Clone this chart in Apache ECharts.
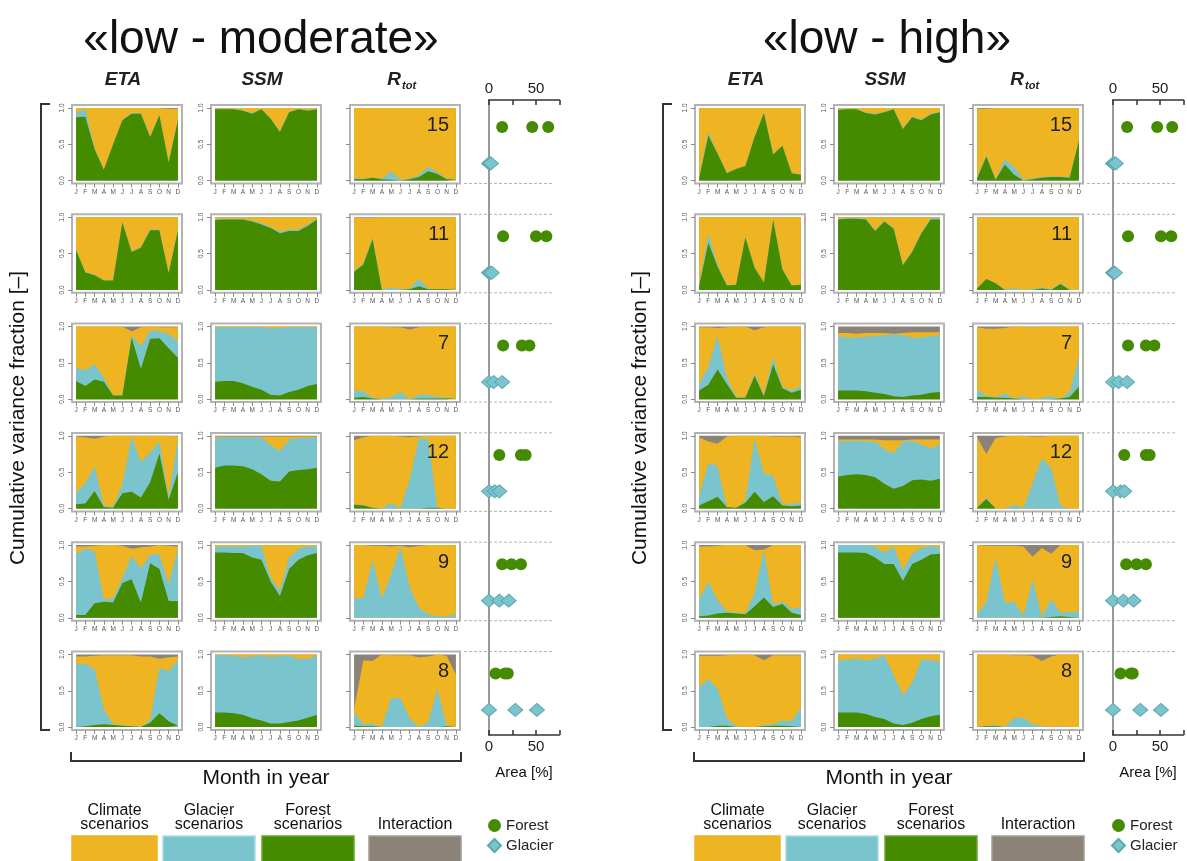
<!DOCTYPE html>
<html>
<head>
<meta charset="utf-8">
<title>Cumulative variance fraction</title>
<script src="https://cdn.jsdelivr.net/npm/echarts@6/dist/echarts.min.js"></script>
<style>
  html, body { margin: 0; padding: 0; background: #fff; }
  #chart { width: 1187px; height: 861px; }
</style>
</head>
<body>
<div id="chart"></div>
<script>
// categories
const months = ['J', 'F', 'M', 'A', 'M', 'J', 'J', 'A', 'S', 'O', 'N', 'D'];
const rtotNumbers = ['15', '11', '7', '12', '9', '8'];
const yTicks = [0, 0.5, 1];

// cumulative tops (forest, forest+glacier, forest+glacier+climate); interaction fills up to 1.0
// «low - moderate»
const lmEtaForest = [
  [0.87, 0.88, 0.43, 0.15, 0.50, 0.83, 0.92, 0.92, 0.60, 0.90, 0.25, 0.83],
  [0.55, 0.24, 0.20, 0.13, 0.13, 0.93, 0.52, 0.58, 0.82, 0.82, 0.23, 0.82],
  [0.25, 0.18, 0.27, 0.24, 0.05, 0.05, 0.85, 0.42, 0.83, 0.84, 0.70, 0.57],
  [0.06, 0.07, 0.24, 0.02, 0.01, 0.21, 0.23, 0.15, 0.36, 0.76, 0.12, 0.50],
  [0.04, 0.04, 0.20, 0.22, 0.21, 0.48, 0.53, 0.21, 0.75, 0.67, 0.23, 0.23],
  [0.00, 0.01, 0.03, 0.04, 0.03, 0.02, 0.01, 0.00, 0.06, 0.19, 0.08, 0.02]
];
const lmEtaGlacier = [
  [0.93, 0.99, 0.45, 0.15, 0.50, 0.84, 0.93, 0.93, 0.61, 0.90, 0.26, 0.84],
  [0.56, 0.25, 0.21, 0.13, 0.14, 0.94, 0.53, 0.59, 0.83, 0.83, 0.24, 0.83],
  [0.43, 0.40, 0.48, 0.30, 0.05, 0.05, 0.88, 0.73, 0.95, 0.93, 0.90, 0.80],
  [0.22, 0.35, 0.58, 0.04, 0.02, 0.33, 0.99, 0.64, 0.77, 0.92, 0.16, 0.95],
  [0.88, 0.95, 0.92, 0.25, 0.27, 0.55, 0.85, 0.68, 0.87, 0.87, 0.47, 0.95],
  [0.87, 0.87, 0.80, 0.25, 0.04, 0.03, 0.01, 0.00, 0.10, 0.82, 0.77, 0.92]
];
const lmEtaClimate = [
  [1.00, 1.00, 1.00, 1.00, 1.00, 1.00, 1.00, 1.00, 1.00, 1.00, 0.99, 0.99],
  [1.00, 1.00, 1.00, 1.00, 1.00, 1.00, 1.00, 1.00, 1.00, 1.00, 1.00, 1.00],
  [1.00, 1.00, 1.00, 1.00, 1.00, 1.00, 0.93, 0.99, 1.00, 0.99, 0.99, 0.99],
  [0.99, 0.98, 0.96, 0.99, 1.00, 1.00, 1.00, 1.00, 1.00, 1.00, 1.00, 0.99],
  [0.98, 0.98, 0.99, 1.00, 1.00, 0.99, 0.95, 0.97, 0.98, 1.00, 0.99, 0.98],
  [0.97, 0.97, 0.98, 0.99, 0.99, 0.99, 0.99, 0.97, 0.97, 0.94, 0.96, 0.97]
];
const lmSsmForest = [
  [0.98, 0.98, 0.98, 0.96, 0.92, 0.98, 0.85, 0.67, 0.94, 0.98, 0.96, 0.98],
  [0.96, 0.97, 0.97, 0.97, 0.94, 0.90, 0.85, 0.78, 0.81, 0.81, 0.88, 0.97],
  [0.24, 0.25, 0.25, 0.22, 0.17, 0.13, 0.06, 0.05, 0.10, 0.13, 0.18, 0.21],
  [0.56, 0.59, 0.59, 0.58, 0.54, 0.47, 0.38, 0.37, 0.51, 0.53, 0.54, 0.56],
  [0.90, 0.90, 0.89, 0.89, 0.83, 0.80, 0.50, 0.30, 0.67, 0.80, 0.86, 0.89],
  [0.20, 0.20, 0.19, 0.17, 0.12, 0.09, 0.05, 0.05, 0.07, 0.09, 0.13, 0.17]
];
const lmSsmGlacier = [
  [0.99, 0.99, 0.99, 0.97, 0.93, 0.99, 0.86, 0.68, 0.95, 0.99, 0.97, 0.99],
  [0.98, 0.98, 0.98, 0.98, 0.95, 0.92, 0.87, 0.80, 0.83, 0.83, 0.90, 0.98],
  [0.99, 0.99, 0.99, 0.99, 0.99, 0.99, 0.98, 0.98, 0.99, 0.99, 0.99, 0.99],
  [0.97, 0.98, 0.98, 0.98, 0.98, 0.98, 0.87, 0.79, 0.95, 0.97, 0.97, 0.98],
  [0.98, 0.98, 0.98, 0.98, 0.99, 0.99, 0.55, 0.38, 0.83, 0.95, 0.98, 0.99],
  [0.99, 0.99, 0.98, 0.96, 0.97, 0.99, 0.96, 0.98, 0.98, 0.94, 0.94, 0.98]
];
const lmSsmClimate = [
  [1.00, 1.00, 1.00, 1.00, 1.00, 1.00, 1.00, 1.00, 1.00, 1.00, 1.00, 1.00],
  [1.00, 1.00, 1.00, 1.00, 1.00, 1.00, 1.00, 1.00, 1.00, 1.00, 1.00, 1.00],
  [1.00, 1.00, 1.00, 1.00, 1.00, 1.00, 1.00, 1.00, 1.00, 1.00, 1.00, 1.00],
  [0.99, 0.99, 0.99, 0.99, 0.99, 0.99, 0.99, 0.99, 0.99, 0.99, 0.99, 0.99],
  [1.00, 1.00, 1.00, 1.00, 1.00, 1.00, 1.00, 1.00, 1.00, 1.00, 1.00, 1.00],
  [1.00, 1.00, 1.00, 1.00, 1.00, 1.00, 1.00, 1.00, 1.00, 1.00, 1.00, 1.00]
];
const lmRtotForest = [
  [0.02, 0.02, 0.04, 0.02, 0.01, 0.00, 0.02, 0.05, 0.13, 0.09, 0.02, 0.02],
  [0.25, 0.35, 0.70, 0.00, 0.00, 0.00, 0.01, 0.05, 0.01, 0.01, 0.01, 0.02],
  [0.02, 0.03, 0.01, 0.00, 0.00, 0.00, 0.00, 0.01, 0.01, 0.01, 0.01, 0.01],
  [0.05, 0.04, 0.01, 0.00, 0.00, 0.00, 0.00, 0.00, 0.01, 0.01, 0.00, 0.00],
  [0.00, 0.00, 0.00, 0.00, 0.00, 0.00, 0.00, 0.00, 0.00, 0.00, 0.00, 0.00],
  [0.02, 0.01, 0.01, 0.00, 0.00, 0.00, 0.00, 0.00, 0.00, 0.00, 0.01, 0.02]
];
const lmRtotGlacier = [
  [0.03, 0.03, 0.04, 0.03, 0.13, 0.01, 0.03, 0.08, 0.19, 0.11, 0.03, 0.02],
  [0.26, 0.36, 0.72, 0.01, 0.03, 0.01, 0.02, 0.15, 0.02, 0.01, 0.01, 0.02],
  [0.12, 0.11, 0.02, 0.01, 0.03, 0.10, 0.00, 0.06, 0.06, 0.03, 0.02, 0.02],
  [0.06, 0.05, 0.01, 0.00, 0.08, 0.00, 0.40, 0.97, 0.95, 0.01, 0.00, 0.00],
  [0.27, 0.27, 0.80, 0.27, 0.60, 0.98, 0.42, 0.14, 0.05, 0.02, 0.02, 0.06],
  [0.20, 0.04, 0.05, 0.00, 0.40, 0.40, 0.12, 0.00, 0.07, 0.53, 0.02, 0.02]
];
const lmRtotClimate = [
  [1.00, 1.00, 1.00, 1.00, 1.00, 1.00, 1.00, 1.00, 1.00, 1.00, 1.00, 1.00],
  [1.00, 0.99, 0.99, 1.00, 1.00, 1.00, 1.00, 1.00, 1.00, 1.00, 1.00, 1.00],
  [1.00, 1.00, 1.00, 1.00, 0.99, 0.99, 0.96, 0.99, 1.00, 1.00, 1.00, 1.00],
  [0.94, 0.98, 1.00, 1.00, 1.00, 0.99, 0.98, 0.99, 1.00, 1.00, 1.00, 1.00],
  [1.00, 1.00, 0.99, 0.99, 0.98, 0.99, 0.97, 0.99, 1.00, 1.00, 1.00, 1.00],
  [0.25, 0.92, 0.91, 1.00, 0.99, 0.99, 0.99, 0.96, 0.97, 1.00, 0.98, 0.72]
];

// «low - high»
const lhEtaForest = [
  [0.03, 0.62, 0.37, 0.10, 0.16, 0.20, 0.60, 0.93, 0.36, 0.48, 0.10, 0.08],
  [0.05, 0.65, 0.32, 0.06, 0.07, 0.72, 0.30, 0.10, 0.96, 0.28, 0.06, 0.07],
  [0.12, 0.20, 0.41, 0.21, 0.02, 0.02, 0.32, 0.04, 0.48, 0.15, 0.09, 0.13],
  [0.04, 0.10, 0.16, 0.02, 0.01, 0.08, 0.23, 0.09, 0.17, 0.04, 0.03, 0.04],
  [0.02, 0.03, 0.06, 0.07, 0.06, 0.05, 0.16, 0.28, 0.15, 0.19, 0.07, 0.04],
  [0.00, 0.00, 0.02, 0.02, 0.00, 0.00, 0.00, 0.01, 0.02, 0.02, 0.01, 0.01]
];
const lhEtaGlacier = [
  [0.04, 0.67, 0.38, 0.11, 0.16, 0.20, 0.61, 0.94, 0.37, 0.48, 0.10, 0.09],
  [0.06, 0.77, 0.35, 0.07, 0.07, 0.74, 0.31, 0.10, 0.98, 0.29, 0.06, 0.07],
  [0.20, 0.45, 0.87, 0.30, 0.03, 0.03, 0.35, 0.06, 0.58, 0.17, 0.12, 0.18],
  [0.16, 0.63, 0.58, 0.02, 0.01, 0.11, 0.97, 0.48, 0.45, 0.06, 0.06, 0.09],
  [0.25, 0.50, 0.24, 0.09, 0.07, 0.06, 0.35, 0.93, 0.18, 0.22, 0.12, 0.15],
  [0.55, 0.66, 0.53, 0.12, 0.01, 0.00, 0.00, 0.03, 0.04, 0.09, 0.08, 0.27]
];
const lhEtaClimate = [
  [1.00, 1.00, 1.00, 1.00, 1.00, 1.00, 1.00, 1.00, 1.00, 1.00, 1.00, 1.00],
  [1.00, 1.00, 1.00, 1.00, 1.00, 1.00, 1.00, 1.00, 1.00, 1.00, 1.00, 1.00],
  [0.99, 0.99, 0.98, 0.99, 1.00, 1.00, 0.95, 0.99, 1.00, 1.00, 1.00, 1.00],
  [0.98, 0.92, 0.89, 0.99, 1.00, 1.00, 1.00, 1.00, 0.99, 0.99, 0.99, 0.98],
  [0.98, 0.98, 0.99, 1.00, 1.00, 1.00, 0.93, 0.94, 1.00, 1.00, 1.00, 1.00],
  [0.98, 0.98, 0.98, 0.99, 1.00, 1.00, 0.99, 0.92, 0.99, 0.99, 0.99, 0.99]
];
const lhSsmForest = [
  [0.97, 0.98, 0.98, 0.93, 0.91, 0.94, 0.98, 0.71, 0.87, 0.83, 0.91, 0.94],
  [0.97, 0.98, 0.98, 0.97, 0.81, 0.94, 0.84, 0.34, 0.52, 0.78, 0.97, 0.97],
  [0.12, 0.12, 0.12, 0.11, 0.09, 0.07, 0.04, 0.03, 0.05, 0.06, 0.09, 0.10],
  [0.44, 0.46, 0.47, 0.46, 0.43, 0.34, 0.27, 0.31, 0.39, 0.40, 0.38, 0.41],
  [0.90, 0.90, 0.90, 0.89, 0.83, 0.74, 0.74, 0.51, 0.74, 0.80, 0.87, 0.88],
  [0.20, 0.20, 0.20, 0.18, 0.14, 0.11, 0.05, 0.03, 0.06, 0.11, 0.15, 0.17]
];
const lhSsmGlacier = [
  [0.98, 0.99, 0.99, 0.94, 0.92, 0.95, 0.99, 0.72, 0.88, 0.84, 0.92, 0.95],
  [0.98, 0.99, 0.99, 0.98, 0.82, 0.95, 0.85, 0.35, 0.53, 0.79, 0.99, 0.99],
  [0.87, 0.85, 0.85, 0.86, 0.87, 0.88, 0.89, 0.88, 0.85, 0.85, 0.87, 0.88],
  [0.92, 0.93, 0.93, 0.92, 0.92, 0.82, 0.76, 0.92, 0.93, 0.88, 0.83, 0.88],
  [1.00, 1.00, 1.00, 1.00, 0.98, 0.90, 0.98, 0.66, 0.88, 0.96, 0.99, 0.97],
  [0.92, 0.93, 0.94, 0.92, 0.94, 0.99, 0.72, 0.44, 0.61, 0.93, 0.92, 0.90]
];
const lhSsmClimate = [
  [1.00, 1.00, 1.00, 1.00, 1.00, 1.00, 1.00, 1.00, 1.00, 1.00, 1.00, 1.00],
  [1.00, 1.00, 1.00, 1.00, 1.00, 1.00, 1.00, 1.00, 1.00, 1.00, 1.00, 1.00],
  [0.91, 0.91, 0.90, 0.91, 0.91, 0.91, 0.90, 0.91, 0.92, 0.92, 0.92, 0.92],
  [0.95, 0.95, 0.95, 0.95, 0.95, 0.94, 0.94, 0.94, 0.95, 0.95, 0.95, 0.95],
  [1.00, 1.00, 1.00, 1.00, 1.00, 1.00, 1.00, 1.00, 1.00, 1.00, 1.00, 1.00],
  [1.00, 1.00, 1.00, 1.00, 1.00, 1.00, 1.00, 1.00, 1.00, 1.00, 1.00, 1.00]
];
const lhRtotForest = [
  [0.03, 0.33, 0.01, 0.22, 0.08, 0.00, 0.02, 0.04, 0.05, 0.05, 0.04, 0.55],
  [0.02, 0.15, 0.09, 0.00, 0.00, 0.00, 0.00, 0.02, 0.00, 0.08, 0.00, 0.01],
  [0.03, 0.03, 0.02, 0.02, 0.01, 0.00, 0.00, 0.00, 0.00, 0.01, 0.03, 0.17],
  [0.01, 0.13, 0.00, 0.00, 0.00, 0.00, 0.00, 0.00, 0.00, 0.00, 0.00, 0.00],
  [0.00, 0.00, 0.00, 0.00, 0.00, 0.00, 0.00, 0.00, 0.01, 0.02, 0.01, 0.00],
  [0.00, 0.01, 0.01, 0.00, 0.00, 0.00, 0.00, 0.00, 0.00, 0.00, 0.00, 0.00]
];
const lhRtotGlacier = [
  [0.04, 0.35, 0.02, 0.29, 0.19, 0.01, 0.03, 0.05, 0.06, 0.06, 0.05, 0.55],
  [0.02, 0.15, 0.09, 0.01, 0.02, 0.00, 0.01, 0.04, 0.01, 0.09, 0.01, 0.02],
  [0.13, 0.05, 0.03, 0.08, 0.01, 0.04, 0.00, 0.02, 0.04, 0.01, 0.10, 0.58],
  [0.01, 0.15, 0.00, 0.00, 0.05, 0.01, 0.35, 0.69, 0.56, 0.04, 0.00, 0.00],
  [0.05, 0.22, 0.83, 0.21, 0.22, 0.03, 0.53, 0.01, 0.26, 0.07, 0.08, 0.08],
  [0.00, 0.02, 0.03, 0.00, 0.13, 0.13, 0.04, 0.01, 0.00, 0.01, 0.00, 0.00]
];
const lhRtotClimate = [
  [0.99, 0.99, 1.00, 1.00, 1.00, 1.00, 1.00, 1.00, 1.00, 1.00, 1.00, 1.00],
  [1.00, 1.00, 1.00, 1.00, 1.00, 1.00, 1.00, 1.00, 1.00, 1.00, 1.00, 1.00],
  [0.99, 0.97, 0.97, 0.98, 1.00, 1.00, 0.99, 1.00, 1.00, 1.00, 1.00, 1.00],
  [0.98, 0.75, 0.97, 0.99, 1.00, 1.00, 0.99, 0.99, 1.00, 1.00, 1.00, 1.00],
  [1.00, 0.99, 0.99, 0.99, 0.99, 0.98, 0.84, 0.96, 0.88, 1.00, 1.00, 1.00],
  [1.00, 1.00, 1.00, 1.00, 0.99, 0.99, 0.98, 0.91, 0.97, 1.00, 1.00, 1.00]
];
// total of the stack (interaction on top)
const stackTotal = [1, 1, 1, 1, 1, 1, 1, 1, 1, 1, 1, 1];

// area changes [%] per row: three scenarios each
const lmForestArea = [[14, 46, 63], [15, 50, 61], [15, 35, 43], [11, 34, 39], [14, 24, 34], [7, 17, 20]];
const lmGlacierArea = [[0, 1, 2], [0, 1, 3], [0, 5, 14], [0, 6, 11], [0, 11, 21], [0, 28, 51]];
const lhForestArea = [[15, 47, 63], [16, 51, 62], [16, 35, 44], [12, 35, 39], [14, 25, 35], [8, 19, 21]];
const lhGlacierArea = [[0, 1, 3], [0, 1, 2], [0, 6, 15], [0, 8, 12], [0, 11, 22], [0, 29, 51]];

const FONT = '"Liberation Sans", Arial, Helvetica, sans-serif';
const C_CLIMATE = '#EEB422';
const C_GLACIER = '#7AC5CD';
const C_FOREST = '#458B00';
const C_INTER = '#8B8378';

const ROW_TOP = 105;
const ROW_STEP = 109.3;
const GRID_H = 78.5;
const GRID_W = 110;
const SC_TOP = 100;
const SC_BOTTOM = 735;
const SC_W = 70.5;

const panels = [
  {
    title: '«low - moderate»', titleX: 261, colLeft: [72, 211, 350], scLeft: 489, bracketX: 41, ylabelX: 18,
    layers: [[lmEtaForest, lmEtaGlacier, lmEtaClimate], [lmSsmForest, lmSsmGlacier, lmSsmClimate], [lmRtotForest, lmRtotGlacier, lmRtotClimate]],
    forestArea: lmForestArea, glacierArea: lmGlacierArea
  },
  {
    title: '«low - high»', titleX: 887, colLeft: [695, 834, 973], scLeft: 1113, bracketX: 663, ylabelX: 640,
    layers: [[lhEtaForest, lhEtaGlacier, lhEtaClimate], [lhSsmForest, lhSsmGlacier, lhSsmClimate], [lhRtotForest, lhRtotGlacier, lhRtotClimate]],
    forestArea: lhForestArea, glacierArea: lhGlacierArea
  }
];

const grid = [], xAxis = [], yAxis = [], series = [], graphic = [], legend = [];
const monthPos = months.map((m, i) => i + 1);
const toPoints = vals => vals.map((v, i) => [monthPos[i], v]);

const txt = (x, y, text, font, extra) => Object.assign({
  type: 'text', x, y, silent: true,
  style: { text, font, fill: '#111', align: 'center', verticalAlign: 'middle' }
}, extra || {});

panels.forEach(p => {
  for (let c = 0; c < 3; c++) {
    for (let r = 0; r < 6; r++) {
      const gi = grid.length;
      grid.push({
        left: p.colLeft[c], top: ROW_TOP + r * ROW_STEP, width: GRID_W, height: GRID_H,
        show: true, borderColor: '#b3b3b3', borderWidth: 2, backgroundColor: '#fff'
      });
      const xi = xAxis.length;
      xAxis.push({
        gridIndex: gi, type: 'value', min: 0.56, max: 12.44,
        axisLine: { show: false, onZero: false }, splitLine: { show: false },
        axisTick: { customValues: monthPos, length: 4, lineStyle: { color: '#8a8a8a' } },
        axisLabel: { customValues: monthPos, formatter: v => months[Math.round(v) - 1], fontSize: 6.5, color: '#555', margin: 5, fontFamily: FONT }
      });
      const yi = yAxis.length;
      yAxis.push({
        gridIndex: gi, type: 'value', min: -0.04, max: 1.04,
        axisLine: { show: false, onZero: false }, splitLine: { show: false },
        axisTick: { customValues: yTicks, length: 4, lineStyle: { color: '#8a8a8a' } },
        axisLabel: { show: c < 2, customValues: yTicks, formatter: v => v.toFixed(1), rotate: 90, fontSize: 6.5, color: '#555', margin: 6, fontFamily: FONT }
      });
      const [fArr, gArr, cArr] = p.layers[c];
      const layerDefs = [
        ['interaction', stackTotal, C_INTER],
        ['climate', cArr[r], C_CLIMATE],
        ['glacier', gArr[r], C_GLACIER],
        ['forest', fArr[r], C_FOREST]
      ];
      layerDefs.forEach(([name, vals, color]) => {
        series.push({
          name: name + '-share', type: 'line', xAxisIndex: xi, yAxisIndex: yi,
          data: toPoints(vals), symbol: 'none', silent: true,
          lineStyle: { width: 0 }, areaStyle: { color, opacity: 1 }
        });
      });
    }
  }

  // scatter column
  const gi = grid.length;
  grid.push({ left: p.scLeft, top: SC_TOP, width: SC_W, height: SC_BOTTOM - SC_TOP });
  const scX = pos => ({
    gridIndex: gi, type: 'value', min: 0, max: 75, interval: 25, position: pos,
    axisLine: { onZero: false, lineStyle: { color: '#333', width: 1.5 } },
    axisTick: { inside: true, length: 5, lineStyle: { color: '#333', width: 1.5 } },
    axisLabel: { formatter: v => (v % 50 === 0 ? String(v) : ''), fontSize: 15, color: '#222', margin: 4, fontFamily: FONT },
    splitLine: { show: false }
  });
  const xTop = xAxis.length;
  xAxis.push(scX('top'));
  xAxis.push(scX('bottom'));
  const slotPitch = ROW_STEP / 3;
  const firstForest = ROW_TOP + 22;
  const yIdx = yAxis.length;
  yAxis.push({
    gridIndex: gi, type: 'value', inverse: true,
    min: -(firstForest - SC_TOP) / slotPitch, max: (SC_BOTTOM - firstForest) / slotPitch,
    axisLine: { onZero: false, lineStyle: { color: '#9a9a9a', width: 2 } },
    axisTick: { show: false }, axisLabel: { show: false }, splitLine: { show: false }
  });
  series.push({
    name: 'Forest', type: 'scatter', xAxisIndex: xTop, yAxisIndex: yIdx, clip: false,
    symbol: 'circle', symbolSize: 12, itemStyle: { color: C_FOREST, opacity: 1 },
    data: p.forestArea.flatMap((vals, r) => vals.map(v => [v, r * 3]))
  });
  series.push({
    name: 'Glacier', type: 'scatter', xAxisIndex: xTop, yAxisIndex: yIdx, clip: false,
    symbol: 'diamond', symbolSize: [15, 13], itemStyle: { color: C_GLACIER, borderColor: '#5fa7b0', borderWidth: 1, opacity: 1 },
    data: p.glacierArea.flatMap((vals, r) => vals.map(v => [v, r * 3 + 1]))
  });
  legend.push({
    left: p.scLeft - 2, top: 818, width: 90, height: 60, orient: 'vertical', itemGap: 5, itemWidth: 13, itemHeight: 13,
    padding: 0, selectedMode: false, textStyle: { fontSize: 15, color: '#222', fontFamily: FONT },
    data: [{ name: 'Forest', icon: 'circle' }, { name: 'Glacier', icon: 'diamond' }]
  });

  // texts and decorations
  graphic.push(txt(p.titleX, 40, p.title, '46px ' + FONT));
  ['ETA', 'SSM'].forEach((h, c) => {
    const t = txt(p.colLeft[c] + GRID_W / 2 - 4, 80, h, 'italic bold 19px ' + FONT);
    t.style.fill = '#222';
    graphic.push(t);
  });
  const rc = p.colLeft[2] + GRID_W / 2 - 4;
  graphic.push({ type: 'text', x: rc, y: 80, silent: true, style: { text: 'R', font: 'italic bold 19px ' + FONT, fill: '#222', align: 'right', verticalAlign: 'middle' } });
  graphic.push({ type: 'text', x: rc + 1, y: 86, silent: true, style: { text: 'tot', font: 'italic bold 11px ' + FONT, fill: '#222', align: 'left', verticalAlign: 'middle' } });
  rtotNumbers.forEach((n, r) => {
    graphic.push({ type: 'text', x: p.colLeft[2] + 99, y: ROW_TOP + r * ROW_STEP + 20, silent: true, z: 10,
      style: { text: n, font: '20px ' + FONT, fill: '#222', align: 'right', verticalAlign: 'middle' } });
  });
  graphic.push(txt(p.ylabelX, 418, 'Cumulative variance fraction [–]', '21px ' + FONT, { rotation: Math.PI / 2 }));
  const bx = p.bracketX;
  graphic.push({ type: 'polyline', silent: true, shape: { points: [[bx + 9, 104], [bx, 104], [bx, 730], [bx + 9, 730]] }, style: { stroke: '#333', lineWidth: 2, fill: null } });
  const x0 = p.colLeft[0] - 1, x1 = p.colLeft[2] + GRID_W + 1;
  graphic.push({ type: 'polyline', silent: true, shape: { points: [[x0, 752], [x0, 761], [x1, 761], [x1, 752]] }, style: { stroke: '#333', lineWidth: 2, fill: null } });
  graphic.push(txt((x0 + x1) / 2, 778, 'Month in year', '21px ' + FONT));
  graphic.push(txt(p.scLeft + 35, 773, 'Area [%]', '15px ' + FONT));
  // dashed row separators
  for (let r = 0; r < 5; r++) {
    const yb = ROW_TOP + r * ROW_STEP + GRID_H;
    const yt = ROW_TOP + (r + 1) * ROW_STEP;
    [yb, yt].forEach(y => graphic.push({ type: 'line', silent: true,
      shape: { x1: x1 + 3, y1: y, x2: p.scLeft + 63, y2: y },
      style: { stroke: '#b5b5b5', lineWidth: 1, lineDash: [3, 2] } }));
  }
  // area legend
  const legItems = [
    [['Climate', 'scenarios'], C_CLIMATE, 85, '#EEB422'],
    [['Glacier', 'scenarios'], C_GLACIER, 92, '#a9dde3'],
    [['Forest', 'scenarios'], C_FOREST, 92, '#6aa63a'],
    [['Interaction'], C_INTER, 92, '#a49d94']
  ];
  const legLeft = [p.colLeft[0], p.colLeft[0] + 91, p.colLeft[0] + 190, p.colLeft[0] + 297];
  legItems.forEach(([lines, color, w, border], k) => {
    const lx = legLeft[k];
    graphic.push({ type: 'rect', silent: true, shape: { x: lx, y: 836, width: w, height: 30 }, style: { fill: color, stroke: border, lineWidth: 1.5 } });
    if (lines.length === 2) {
      graphic.push(txt(lx + w / 2, 811, lines[0], '16px ' + FONT));
      graphic.push(txt(lx + w / 2, 825, lines[1], '16px ' + FONT));
    } else {
      graphic.push(txt(lx + w / 2, 825, lines[0], '16px ' + FONT));
    }
  });
});

const chart = echarts.init(document.getElementById('chart'), null, { renderer: 'canvas' });
chart.setOption({
  backgroundColor: '#fff',
  animation: false,
  textStyle: { fontFamily: FONT },
  grid, xAxis, yAxis, series, legend, graphic
});
</script>
</body>
</html>
